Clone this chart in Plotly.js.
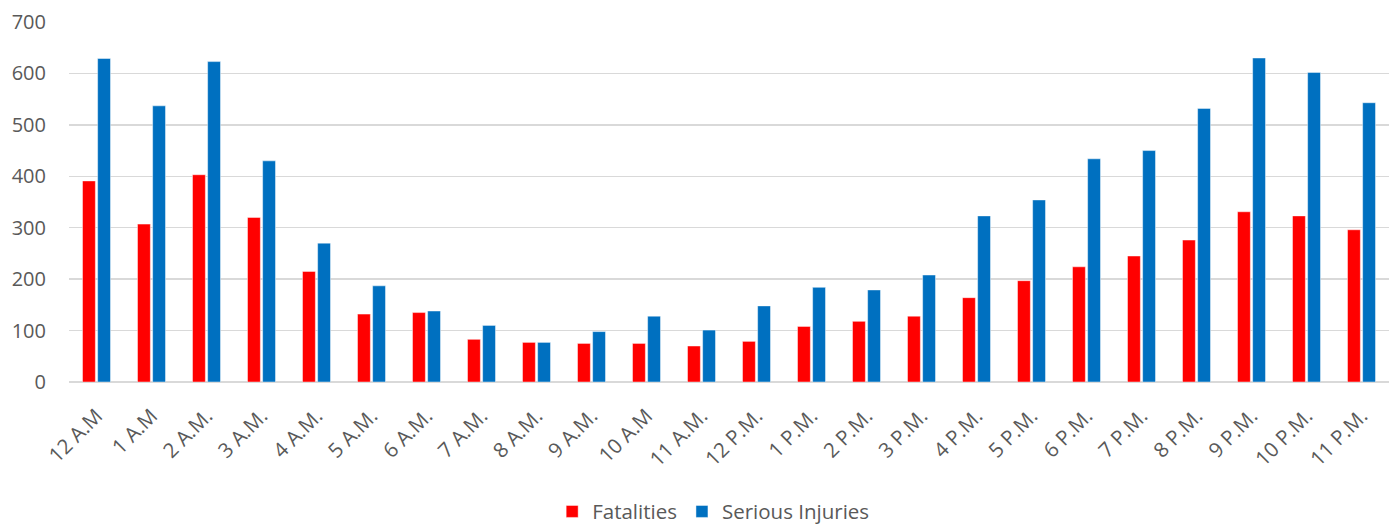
<!DOCTYPE html>
<html>
<head>
<meta charset="utf-8">
<script src="https://cdn.plot.ly/plotly-3.0.1.min.js"></script>
<style>html,body{margin:0;padding:0;background:#fff;}#chart{width:1389px;height:524px;}</style>
</head>
<body>
<div id="chart"></div>
<script>
const hours = ["12 A.M","1 A.M","2 A.M.","3 A.M.","4 A.M.","5 A.M.","6 A.M.","7 A.M.","8 A.M.","9 A.M.","10 A.M","11 A.M.",
  "12 P.M.","1 P.M.","2 P.M.","3 P.M.","4 P.M.","5 P.M.","6 P.M.","7 P.M.","8 P.M.","9 P.M.","10 P.M.","11 P.M."];
const fatalities = [391,307,403,320,215,132,135,83,77,75,75,70,79,108,118,128,164,197,224,245,276,331,323,296];
const seriousInjuries = [629,537,623,430,270,187,138,110,77,98,128,101,148,184,179,208,323,354,434,450,532,630,602,543];
const yTicks = [0,100,200,300,400,500,600,700];

const fontFam = '"Open Sans", "Liberation Sans", sans-serif';
const data = [
  {type:'bar', name:'Fatalities', x:hours, y:fatalities, marker:{color:'#FF0000', line:{color:'rgba(255,255,255,0.45)', width:1}}},
  {type:'bar', name:'Serious Injuries', x:hours, y:seriousInjuries, marker:{color:'#0070C0', line:{color:'rgba(255,255,255,0.45)', width:1}}}
];
const layout = {
  width:1389, height:524,
  margin:{l:69, r:0, t:22, b:142, autoexpand:false},
  paper_bgcolor:'#fff', plot_bgcolor:'#fff',
  font:{family:fontFam, color:'#595959', size:20},
  barmode:'group', bargap:0.45, bargroupgap:0.15,
  showlegend:true,
  legend:{orientation:'h', x:0.488, xanchor:'center', y:-0.36, yanchor:'middle', font:{size:20.5, color:'#595959'}, itemwidth:30},
  xaxis:{type:'category', tickangle:-45, showgrid:false, showline:false, ticks:'', tickfont:{size:20.5, color:'#595959'}, ticklabelstandoff:17, automargin:false},
  yaxis:{range:[0,700], tickvals:yTicks, showgrid:true, gridcolor:'#d9d9d9', gridwidth:1.5, zeroline:true, zerolinecolor:'#d9d9d9', zerolinewidth:1.5, showline:false, ticks:'', tickfont:{size:20, color:'#595959'}, ticklabelstandoff:22, automargin:false}
};
Plotly.newPlot('chart', data, layout, {displayModeBar:false, staticPlot:true});
</script>
</body>
</html>
